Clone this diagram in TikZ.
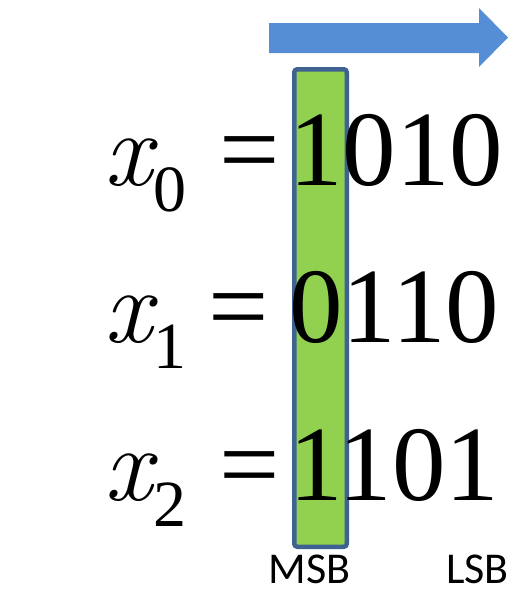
\documentclass[tikz,border=0pt]{standalone}
\usepackage{fontspec}
\setmainfont{Liberation Serif}
\newfontfamily\numfont{Liberation Serif}
\newfontfamily\varfont{Latin Modern Roman}
\newfontfamily\lblfont{Carlito}
\definecolor{arrowblue}{HTML}{558ED5}
\definecolor{bargreen}{HTML}{92D050}
\definecolor{barblue}{HTML}{3E6391}
\begin{document}
\begin{tikzpicture}[x=1pt,y=-1pt,
  mainfig/.style={font=\numfont\fontsize{107}{110}\selectfont, inner sep=0, anchor=base west},
  varfig/.style={font=\varfont\itshape\fontsize{106}{110}\selectfont, inner sep=0, anchor=base west},
  subfig/.style={font=\numfont\fontsize{66}{70}\selectfont, inner sep=0, anchor=base west},
  lbl/.style={font=\lblfont\fontsize{44}{50}\selectfont, inner sep=0, anchor=base},
  bar/.style={draw=barblue, line width=4.5pt, fill=bargreen, rounded corners=3pt}]
\useasboundingbox (0,0) rectangle (512,589);
% direction arrow
\fill[arrowblue] (269,23) -- (479,23) -- (479,8) -- (508,37.5) -- (479,67) -- (479,53) -- (269,53) -- cycle;
% highlighted column
\draw[bar] (294.25,69.25) rectangle (346.75,546.75);
% row 0
\node[varfig] (x0) at (104,185) {x};
\node[subfig] (s0) at (153,211) {0};
\node[mainfig] (e0) at (219.5,185) {=};
\node[mainfig] (d0) at (289,185) {1010};
% row 1
\node[varfig] (x1) at (104,342) {x};
\node[subfig] (s1) at (153,368) {1};
\node[mainfig] (e1) at (208.5,342) {=};
\node[mainfig] (d1) at (289,342) {0110};
% row 2
\node[varfig] (x2) at (104,500) {x};
\node[subfig] (s2) at (153,526) {2};
\node[mainfig] (e2) at (219.5,500) {=};
\node[mainfig] (d2) at (289,500) {1101};
% labels
\node[lbl] (msb) at (309.5,583) {MSB};
\node[lbl] (lsb) at (477.5,583) {LSB};
\end{tikzpicture}
\end{document}
